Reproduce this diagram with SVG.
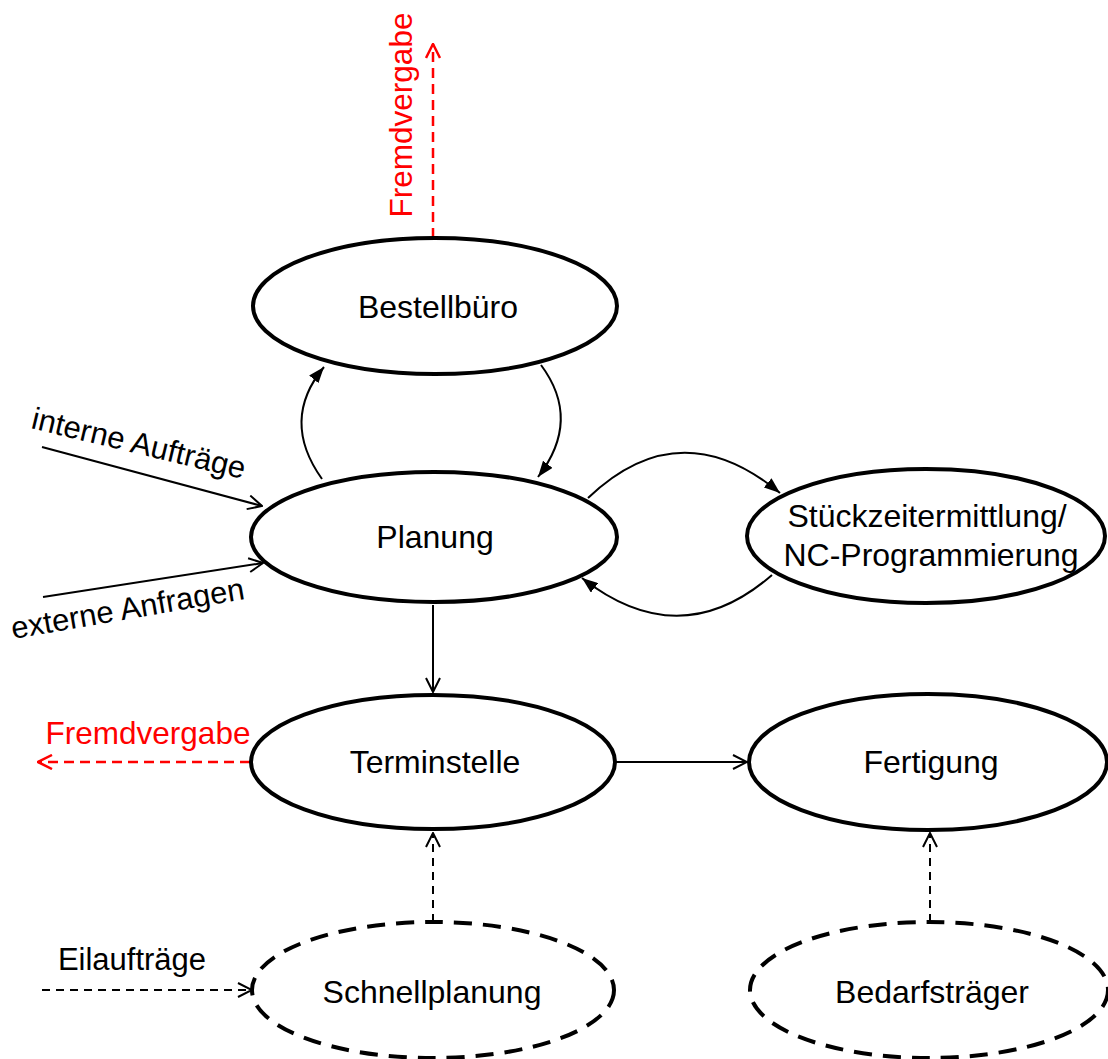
<svg xmlns="http://www.w3.org/2000/svg" width="1108" height="1059" viewBox="0 0 1108 1059">
  <style>
    .node { fill: #fff; stroke: #000; stroke-width: 4; }
    .node-dash { fill: #fff; stroke: #000; stroke-width: 4; stroke-dasharray: 18 11; }
    .lbl { font-family: "Liberation Sans", Arial, sans-serif; font-size: 32px; fill: #000; text-anchor: middle; }
    .edge { fill: none; stroke: #000; stroke-width: 2; }
    .edge-dash { fill: none; stroke: #000; stroke-width: 2; stroke-dasharray: 8 6; }
    .edge-red { fill: none; stroke: #ff0000; stroke-width: 2.5; stroke-dasharray: 10 6; }
    .txt { font-family: "Liberation Sans", Arial, sans-serif; font-size: 31px; fill: #000; }
    .txt-red { font-family: "Liberation Sans", Arial, sans-serif; font-size: 31.5px; fill: #ff0000; }
  </style>
  <defs>
    <marker id="open" viewBox="0 0 16 16" refX="15" refY="8" markerWidth="16" markerHeight="16" markerUnits="userSpaceOnUse" orient="auto">
      <path d="M1,1 L15,8 L1,15" fill="none" stroke="#000" stroke-width="2"/>
    </marker>
    <marker id="open-red" viewBox="0 0 16 16" refX="15" refY="8" markerWidth="16" markerHeight="16" markerUnits="userSpaceOnUse" orient="auto">
      <path d="M1,1 L15,8 L1,15" fill="none" stroke="#ff0000" stroke-width="2.5"/>
    </marker>
    <marker id="solid" viewBox="0 0 16 12" refX="16" refY="6" markerWidth="16" markerHeight="12" markerUnits="userSpaceOnUse" orient="auto">
      <path d="M0,0 L16,6 L0,12 z" fill="#000"/>
    </marker>
  </defs>

  <rect width="1108" height="1059" fill="#fff"/>

  <!-- connectors -->
  <g id="connectors">
    <path class="edge-red" d="M433,238 L433,44" marker-end="url(#open-red)"/>
    <path class="edge-red" d="M250,762 L38,762" marker-end="url(#open-red)"/>
    <path class="edge" d="M322,479 Q280,420 324,367" marker-end="url(#solid)"/>
    <path class="edge" d="M541,365 Q582,420 538,477" marker-end="url(#solid)"/>
    <path class="edge" d="M588,498 Q680,410 780,493" marker-end="url(#solid)"/>
    <path class="edge" d="M772,575 Q680,655 582,578" marker-end="url(#solid)"/>
    <path class="edge" d="M42,447 L262,506" marker-end="url(#open)"/>
    <path class="edge" d="M43,597 L263,563" marker-end="url(#open)"/>
    <path class="edge" d="M433,605 L433,692" marker-end="url(#open)"/>
    <path class="edge" d="M616,762 L747,762" marker-end="url(#open)"/>
    <path class="edge-dash" d="M433,922 L433,833" marker-end="url(#open)"/>
    <path class="edge-dash" d="M930,922 L930,833" marker-end="url(#open)"/>
    <path class="edge-dash" d="M42,990 L252,990" marker-end="url(#open)"/>
  </g>

  <!-- edge labels -->
  <g id="labels">
    <text class="txt-red" transform="translate(412,115) rotate(-90)" text-anchor="middle">Fremdvergabe</text>
    <text class="txt-red" x="148" y="744" text-anchor="middle">Fremdvergabe</text>
    <text class="txt" transform="translate(30,428) rotate(13.5)">interne Aufträge</text>
    <text class="txt" transform="translate(13,639) rotate(-9.8)">externe Anfragen</text>
    <text class="txt" x="132" y="970" text-anchor="middle">Eilaufträge</text>
  </g>

  <g id="bestellbuero">
    <ellipse class="node" cx="435" cy="306" rx="182" ry="68"/>
    <text class="lbl" x="438" y="318">Bestellbüro</text>
  </g>
  <g id="planung">
    <ellipse class="node" cx="434" cy="537" rx="183" ry="65"/>
    <text class="lbl" x="435" y="548">Planung</text>
  </g>
  <g id="stueckzeit">
    <ellipse class="node" cx="926" cy="536" rx="179" ry="67"/>
    <text class="lbl" x="927" y="527">Stückzeitermittlung/</text>
    <text class="lbl" x="931" y="566">NC-Programmierung</text>
  </g>
  <g id="terminstelle">
    <ellipse class="node" cx="433" cy="762" rx="182" ry="67"/>
    <text class="lbl" x="435" y="773">Terminstelle</text>
  </g>
  <g id="fertigung">
    <ellipse class="node" cx="928" cy="762" rx="179" ry="68"/>
    <text class="lbl" x="931" y="773">Fertigung</text>
  </g>
  <g id="schnellplanung">
    <ellipse class="node-dash" cx="433" cy="990" rx="181" ry="68"/>
    <text class="lbl" x="432" y="1003">Schnellplanung</text>
  </g>
  <g id="bedarfstraeger">
    <ellipse class="node-dash" cx="929" cy="990" rx="179" ry="68"/>
    <text class="lbl" x="932" y="1003">Bedarfsträger</text>
  </g>
</svg>
